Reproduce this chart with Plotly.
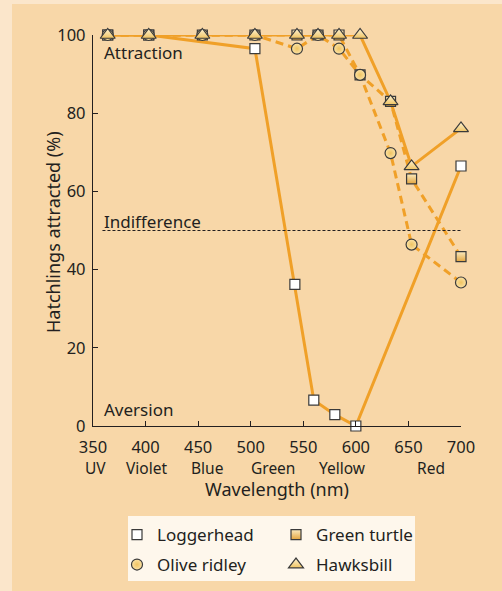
import plotly.graph_objects as go

# ---------------- data ----------------
wl_all = [364, 403, 454, 504, 544, 564, 584, 604, 633, 653, 700]

loggerhead_x = [364, 403, 504, 542, 560, 580, 600, 700]
loggerhead_y = [100, 100, 96.5, 36.2, 6.6, 2.9, 0, 66.5]

green_x = wl_all
green_y = [100, 100, 100, 100, 100, 100, 100, 89.8, 83, 63.2, 43.3]

olive_x = wl_all
olive_y = [100, 100, 100, 100, 96.5, 100, 96.5, 89.8, 69.8, 46.4, 36.7]

hawks_x = wl_all
hawks_y = [100, 100, 100, 100, 100, 100, 100, 100, 83, 66.4, 76.1]

x_ticks = [350, 400, 450, 500, 550, 600, 650, 700]
y_ticks = [0, 20, 40, 60, 80, 100]
band_names = ["UV", "Violet", "Blue", "Green", "Yellow", "Red"]
band_centers = [352, 401, 458, 521, 587, 671]
indifference = 50

# ---------------- style ----------------
ORANGE = "#F0A028"
PANEL = "#F8D7A8"
STRIP = "#FBE6CB"
LEGBG = "#FEF7EC"
INK = "#231F20"
FONT = "Noto Sans"
OUTLINE = dict(color="#3a3a3a", width=1.2)

fig = go.Figure()

# lines first
fig.add_trace(go.Scatter(x=loggerhead_x, y=loggerhead_y, mode="lines",
                         line=dict(color=ORANGE, width=3), showlegend=False, hoverinfo="skip"))
fig.add_trace(go.Scatter(x=hawks_x, y=hawks_y, mode="lines",
                         line=dict(color=ORANGE, width=3), showlegend=False, hoverinfo="skip"))
fig.add_trace(go.Scatter(x=green_x, y=green_y, mode="lines",
                         line=dict(color=ORANGE, width=3, dash="8px,5px"), showlegend=False, hoverinfo="skip"))
fig.add_trace(go.Scatter(x=olive_x, y=olive_y, mode="lines",
                         line=dict(color=ORANGE, width=3, dash="8px,5px"), showlegend=False, hoverinfo="skip"))

# markers
fig.add_trace(go.Scatter(x=green_x, y=green_y, mode="markers", name="Green turtle", legend="legend2",
                         marker=dict(symbol="square", size=10, color="#FBEBC0",
                                     gradient=dict(type="vertical", color="#E3A53E"), line=OUTLINE)))
fig.add_trace(go.Scatter(x=loggerhead_x, y=loggerhead_y, mode="markers", name="Loggerhead", legend="legend",
                         marker=dict(symbol="square", size=10, color="white", line=OUTLINE)))
fig.add_trace(go.Scatter(x=olive_x, y=olive_y, mode="markers", name="Olive ridley", legend="legend3",
                         marker=dict(symbol="circle", size=11, color="#FBE2A6",
                                     gradient=dict(type="radial", color="#F0C462"), line=OUTLINE)))
fig.add_trace(go.Scatter(x=hawks_x, y=hawks_y, mode="markers", name="Hawksbill", legend="legend4",
                         marker=dict(symbol="triangle-up", size=13, color="#FDF3D6",
                                     gradient=dict(type="vertical", color="#F0C462"), line=OUTLINE)))

# ---------------- layout geometry (pixels) ----------------
W, H = 502, 591
L, R, T, B = 93, 41, 35, 165
pw, ph = W - L - R, H - T - B


def px(xp):
    return (xp - L) / pw


def py(yp):
    return (H - B - yp) / ph


shapes = [
    dict(type="rect", xref="paper", yref="paper", x0=px(12), x1=px(W + 10), y0=py(H + 10), y1=py(4),
         fillcolor=PANEL, line=dict(width=0), layer="below"),
    dict(type="rect", xref="paper", yref="paper", x0=px(128), x1=px(415), y0=py(581), y1=py(516),
         fillcolor=LEGBG, line=dict(width=0), layer="below"),
    dict(type="line", xref="x", yref="y", x0=359, x1=700, y0=indifference, y1=indifference,
         line=dict(color=INK, width=1, dash="3px,2px")),
]

annotations = [
    dict(x=359, y=95.5, xref="x", yref="y", text="Attraction", showarrow=False,
         xanchor="left", yanchor="middle", font=dict(size=17, color=INK, family=FONT)),
    dict(x=359, y=52.4, xref="x", yref="y", text="Indifference", showarrow=False,
         xanchor="left", yanchor="middle", font=dict(size=17, color=INK, family=FONT)),
    dict(x=359, y=4.2, xref="x", yref="y", text="Aversion", showarrow=False,
         xanchor="left", yanchor="middle", font=dict(size=17, color=INK, family=FONT)),
    dict(x=px(53), y=py(232), xref="paper", yref="paper", text="Hatchlings attracted (%)",
         showarrow=False, textangle=-90, xanchor="center", yanchor="middle",
         font=dict(size=18, color=INK, family=FONT)),
]
for name, c in zip(band_names, band_centers):
    annotations.append(dict(x=c, y=py(468), xref="x", yref="paper", text=name, showarrow=False,
                            xanchor="center", yanchor="middle",
                            font=dict(size=15.5, color=INK, family=FONT)))


def leg(xp, yp):
    return dict(x=px(xp), y=py(yp), xanchor="left", yanchor="middle", bgcolor="rgba(0,0,0,0)",
                borderwidth=0, font=dict(size=17, color=INK, family=FONT), itemsizing="trace")


fig.update_layout(
    width=W, height=H,
    margin=dict(l=L, r=R, t=T, b=B, autoexpand=False),
    paper_bgcolor=STRIP, plot_bgcolor="rgba(0,0,0,0)",
    font=dict(family=FONT, color=INK, size=17),
    shapes=shapes, annotations=annotations,
    legend=leg(117, 535), legend2=leg(276, 535), legend3=leg(117, 565), legend4=leg(276, 565),
    xaxis=dict(range=[350, 700], tickvals=x_ticks, showgrid=False, zeroline=False,
               showline=True, linecolor=INK, linewidth=1.3, ticks="inside", ticklen=5,
               tickwidth=1.3, tickcolor=INK, tickfont=dict(size=16.5, family=FONT, color=INK),
               ticklabelstandoff=6,
               title=dict(text="Wavelength (nm)", font=dict(size=18, family=FONT, color=INK),
                          standoff=26)),
    yaxis=dict(range=[0, 100], tickvals=y_ticks, showgrid=False, zeroline=False,
               showline=True, linecolor=INK, linewidth=1.3, ticks="inside", ticklen=5,
               tickwidth=1.3, tickcolor=INK, tickfont=dict(size=16.5, family=FONT, color=INK),
               ticklabelstandoff=3),
)
fig.update_traces(cliponaxis=False)

fig.write_html("out.html", config=dict(displayModeBar=False),
               post_script="document.body.style.margin='0';document.body.style.overflow='hidden';")
